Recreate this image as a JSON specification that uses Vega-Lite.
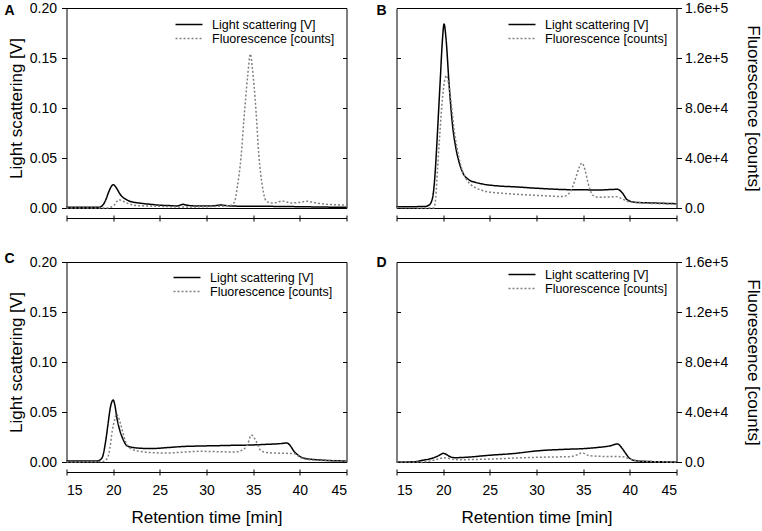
{
"$schema":"https://vega.github.io/schema/vega-lite/v6.json",
"padding":{"left":3.5,"top":0,"right":0,"bottom":0},
"config":{
 "font":"Liberation Sans",
 "view":{"stroke":"black","strokeWidth":1},
 "axis":{"domainColor":"black","tickColor":"black","labelColor":"black","titleColor":"black","grid":false,"titleFontWeight":"normal"},
 "legend":{"symbolStrokeWidth":1.5,"labelFontSize":12.5,"labelColor":"black","padding":0,"rowPadding":0},
 "title":{"color":"black"}
},
"datasets":{"d":[
{"p":"A","s":"LS","t":15,"v":0.0007},{"p":"A","s":"LS","t":17,"v":0.0007},{"p":"A","s":"LS","t":18.5,"v":0.0008},{"p":"A","s":"LS","t":18.9,"v":0.003},{"p":"A","s":"LS","t":19.2,"v":0.008},{"p":"A","s":"LS","t":19.5,"v":0.0155},{"p":"A","s":"LS","t":19.8,"v":0.0215},{"p":"A","s":"LS","t":20.0,"v":0.0233},{"p":"A","s":"LS","t":20.2,"v":0.022},{"p":"A","s":"LS","t":20.5,"v":0.0176},{"p":"A","s":"LS","t":20.8,"v":0.013},{"p":"A","s":"LS","t":21.0,"v":0.011},{"p":"A","s":"LS","t":21.4,"v":0.0085},{"p":"A","s":"LS","t":21.7,"v":0.007},{"p":"A","s":"LS","t":22.3,"v":0.0056},{"p":"A","s":"LS","t":23.0,"v":0.0047},{"p":"A","s":"LS","t":24.0,"v":0.0037},{"p":"A","s":"LS","t":24.75,"v":0.003},{"p":"A","s":"LS","t":26,"v":0.0024},{"p":"A","s":"LS","t":26.9,"v":0.002},{"p":"A","s":"LS","t":27.2,"v":0.003},{"p":"A","s":"LS","t":27.5,"v":0.0037},{"p":"A","s":"LS","t":27.8,"v":0.003},{"p":"A","s":"LS","t":28.3,"v":0.0023},{"p":"A","s":"LS","t":29,"v":0.002},{"p":"A","s":"LS","t":30.1,"v":0.002},{"p":"A","s":"LS","t":31,"v":0.0024},{"p":"A","s":"LS","t":31.5,"v":0.003},{"p":"A","s":"LS","t":32,"v":0.0025},{"p":"A","s":"LS","t":32.6,"v":0.002},{"p":"A","s":"LS","t":34,"v":0.0018},{"p":"A","s":"LS","t":36.5,"v":0.0017},{"p":"A","s":"LS","t":38,"v":0.0015},{"p":"A","s":"LS","t":40.1,"v":0.0013},{"p":"A","s":"LS","t":42,"v":0.001},{"p":"A","s":"LS","t":45,"v":0.0007},
{"p":"A","s":"FL","t":15,"v":0},{"p":"A","s":"FL","t":19.5,"v":0},{"p":"A","s":"FL","t":19.8,"v":800},{"p":"A","s":"FL","t":20.1,"v":2160},{"p":"A","s":"FL","t":20.4,"v":5200},{"p":"A","s":"FL","t":20.6,"v":6640},{"p":"A","s":"FL","t":20.9,"v":6000},{"p":"A","s":"FL","t":21.4,"v":4240},{"p":"A","s":"FL","t":21.8,"v":3040},{"p":"A","s":"FL","t":22.25,"v":2160},{"p":"A","s":"FL","t":23,"v":1760},{"p":"A","s":"FL","t":24,"v":1600},{"p":"A","s":"FL","t":25.5,"v":1200},{"p":"A","s":"FL","t":27.6,"v":800},{"p":"A","s":"FL","t":29.5,"v":960},{"p":"A","s":"FL","t":31.2,"v":1360},{"p":"A","s":"FL","t":32.2,"v":1760},{"p":"A","s":"FL","t":32.6,"v":2160},{"p":"A","s":"FL","t":33.0,"v":4800},{"p":"A","s":"FL","t":33.3,"v":16800},{"p":"A","s":"FL","t":33.7,"v":40800},{"p":"A","s":"FL","t":34.0,"v":70000},{"p":"A","s":"FL","t":34.4,"v":104800},{"p":"A","s":"FL","t":34.7,"v":123200},{"p":"A","s":"FL","t":34.9,"v":112800},{"p":"A","s":"FL","t":35.3,"v":78000},{"p":"A","s":"FL","t":35.6,"v":43200},{"p":"A","s":"FL","t":36.0,"v":16800},{"p":"A","s":"FL","t":36.35,"v":6160},{"p":"A","s":"FL","t":36.9,"v":4000},{"p":"A","s":"FL","t":37.5,"v":4400},{"p":"A","s":"FL","t":38.1,"v":5600},{"p":"A","s":"FL","t":38.6,"v":4800},{"p":"A","s":"FL","t":39.0,"v":4000},{"p":"A","s":"FL","t":39.8,"v":4400},{"p":"A","s":"FL","t":40.8,"v":5360},{"p":"A","s":"FL","t":41.5,"v":4400},{"p":"A","s":"FL","t":42.25,"v":3440},{"p":"A","s":"FL","t":43.7,"v":2640},{"p":"A","s":"FL","t":45,"v":2400},
{"p":"B","s":"LS","t":15,"v":0.0012},{"p":"B","s":"LS","t":18.0,"v":0.0015},{"p":"B","s":"LS","t":18.5,"v":0.003},{"p":"B","s":"LS","t":18.86,"v":0.01},{"p":"B","s":"LS","t":19.1,"v":0.03},{"p":"B","s":"LS","t":19.3,"v":0.06},{"p":"B","s":"LS","t":19.5,"v":0.095},{"p":"B","s":"LS","t":19.7,"v":0.13},{"p":"B","s":"LS","t":19.9,"v":0.165},{"p":"B","s":"LS","t":20.1,"v":0.184},{"p":"B","s":"LS","t":20.3,"v":0.17},{"p":"B","s":"LS","t":20.64,"v":0.123},{"p":"B","s":"LS","t":21.0,"v":0.083},{"p":"B","s":"LS","t":21.36,"v":0.06},{"p":"B","s":"LS","t":21.7,"v":0.046},{"p":"B","s":"LS","t":22.07,"v":0.036},{"p":"B","s":"LS","t":22.8,"v":0.028},{"p":"B","s":"LS","t":23.5,"v":0.0255},{"p":"B","s":"LS","t":24.2,"v":0.024},{"p":"B","s":"LS","t":26,"v":0.022},{"p":"B","s":"LS","t":28,"v":0.021},{"p":"B","s":"LS","t":29.6,"v":0.02},{"p":"B","s":"LS","t":31.5,"v":0.019},{"p":"B","s":"LS","t":33.1,"v":0.0184},{"p":"B","s":"LS","t":35,"v":0.0182},{"p":"B","s":"LS","t":36.7,"v":0.018},{"p":"B","s":"LS","t":38.0,"v":0.0185},{"p":"B","s":"LS","t":38.7,"v":0.0187},{"p":"B","s":"LS","t":39.2,"v":0.015},{"p":"B","s":"LS","t":39.75,"v":0.008},{"p":"B","s":"LS","t":40.6,"v":0.0057},{"p":"B","s":"LS","t":42.5,"v":0.005},{"p":"B","s":"LS","t":45,"v":0.0043},
{"p":"B","s":"FL","t":15,"v":400},{"p":"B","s":"FL","t":18.5,"v":0},{"p":"B","s":"FL","t":19.0,"v":0},{"p":"B","s":"FL","t":19.2,"v":8000},{"p":"B","s":"FL","t":19.4,"v":32000},{"p":"B","s":"FL","t":19.65,"v":60000},{"p":"B","s":"FL","t":19.9,"v":85600},{"p":"B","s":"FL","t":20.15,"v":101600},{"p":"B","s":"FL","t":20.36,"v":106000},{"p":"B","s":"FL","t":20.55,"v":100800},{"p":"B","s":"FL","t":20.8,"v":88000},{"p":"B","s":"FL","t":21.0,"v":74400},{"p":"B","s":"FL","t":21.2,"v":60800},{"p":"B","s":"FL","t":21.45,"v":49600},{"p":"B","s":"FL","t":21.7,"v":40000},{"p":"B","s":"FL","t":22.0,"v":31200},{"p":"B","s":"FL","t":22.4,"v":24000},{"p":"B","s":"FL","t":22.9,"v":19200},{"p":"B","s":"FL","t":23.5,"v":16000},{"p":"B","s":"FL","t":24.2,"v":14000},{"p":"B","s":"FL","t":24.9,"v":12800},{"p":"B","s":"FL","t":26.3,"v":11840},{"p":"B","s":"FL","t":27.8,"v":10960},{"p":"B","s":"FL","t":29.6,"v":10240},{"p":"B","s":"FL","t":31.4,"v":9600},{"p":"B","s":"FL","t":32.8,"v":9120},{"p":"B","s":"FL","t":33.5,"v":11760},{"p":"B","s":"FL","t":33.9,"v":17600},{"p":"B","s":"FL","t":34.2,"v":24000},{"p":"B","s":"FL","t":34.55,"v":32000},{"p":"B","s":"FL","t":34.86,"v":36000},{"p":"B","s":"FL","t":35.2,"v":30400},{"p":"B","s":"FL","t":35.5,"v":20800},{"p":"B","s":"FL","t":35.75,"v":14400},{"p":"B","s":"FL","t":36.0,"v":10400},{"p":"B","s":"FL","t":36.7,"v":8560},{"p":"B","s":"FL","t":37.6,"v":8800},{"p":"B","s":"FL","t":38.5,"v":9120},{"p":"B","s":"FL","t":39.2,"v":7200},{"p":"B","s":"FL","t":39.9,"v":5040},{"p":"B","s":"FL","t":41,"v":4240},{"p":"B","s":"FL","t":42,"v":3760},{"p":"B","s":"FL","t":43.5,"v":3360},{"p":"B","s":"FL","t":45,"v":2960},
{"p":"C","s":"LS","t":15,"v":0.001},{"p":"C","s":"LS","t":18.3,"v":0.001},{"p":"C","s":"LS","t":18.8,"v":0.004},{"p":"C","s":"LS","t":19.2,"v":0.021},{"p":"C","s":"LS","t":19.45,"v":0.038},{"p":"C","s":"LS","t":19.7,"v":0.0545},{"p":"C","s":"LS","t":20.0,"v":0.062},{"p":"C","s":"LS","t":20.2,"v":0.056},{"p":"C","s":"LS","t":20.4,"v":0.044},{"p":"C","s":"LS","t":20.7,"v":0.032},{"p":"C","s":"LS","t":21.0,"v":0.024},{"p":"C","s":"LS","t":21.5,"v":0.016},{"p":"C","s":"LS","t":22.2,"v":0.0144},{"p":"C","s":"LS","t":24.0,"v":0.0134},{"p":"C","s":"LS","t":25.8,"v":0.0144},{"p":"C","s":"LS","t":27.5,"v":0.0155},{"p":"C","s":"LS","t":29.4,"v":0.016},{"p":"C","s":"LS","t":31,"v":0.0163},{"p":"C","s":"LS","t":32.95,"v":0.0167},{"p":"C","s":"LS","t":34.8,"v":0.017},{"p":"C","s":"LS","t":36.5,"v":0.0177},{"p":"C","s":"LS","t":37.8,"v":0.0183},{"p":"C","s":"LS","t":38.6,"v":0.019},{"p":"C","s":"LS","t":39.0,"v":0.016},{"p":"C","s":"LS","t":39.35,"v":0.011},{"p":"C","s":"LS","t":39.7,"v":0.0077},{"p":"C","s":"LS","t":40.5,"v":0.0037},{"p":"C","s":"LS","t":42.2,"v":0.002},{"p":"C","s":"LS","t":45,"v":0.001},
{"p":"C","s":"FL","t":15,"v":0},{"p":"C","s":"FL","t":18.9,"v":400},{"p":"C","s":"FL","t":19.4,"v":3200},{"p":"C","s":"FL","t":19.65,"v":11200},{"p":"C","s":"FL","t":19.9,"v":24800},{"p":"C","s":"FL","t":20.15,"v":33600},{"p":"C","s":"FL","t":20.36,"v":38400},{"p":"C","s":"FL","t":20.55,"v":36000},{"p":"C","s":"FL","t":20.8,"v":30400},{"p":"C","s":"FL","t":21.05,"v":23200},{"p":"C","s":"FL","t":21.3,"v":16800},{"p":"C","s":"FL","t":21.6,"v":12800},{"p":"C","s":"FL","t":22.0,"v":10160},{"p":"C","s":"FL","t":23,"v":8400},{"p":"C","s":"FL","t":24.0,"v":7520},{"p":"C","s":"FL","t":25.8,"v":7200},{"p":"C","s":"FL","t":27.5,"v":7840},{"p":"C","s":"FL","t":29.4,"v":8560},{"p":"C","s":"FL","t":31.2,"v":8240},{"p":"C","s":"FL","t":32.95,"v":8000},{"p":"C","s":"FL","t":33.8,"v":9360},{"p":"C","s":"FL","t":34.4,"v":14160},{"p":"C","s":"FL","t":34.8,"v":21600},{"p":"C","s":"FL","t":35.05,"v":20000},{"p":"C","s":"FL","t":35.3,"v":16800},{"p":"C","s":"FL","t":35.8,"v":9360},{"p":"C","s":"FL","t":36.5,"v":7520},{"p":"C","s":"FL","t":38.3,"v":6960},{"p":"C","s":"FL","t":39.4,"v":6720},{"p":"C","s":"FL","t":39.75,"v":5200},{"p":"C","s":"FL","t":40.1,"v":3440},{"p":"C","s":"FL","t":40.8,"v":2000},{"p":"C","s":"FL","t":41.9,"v":1360},{"p":"C","s":"FL","t":45,"v":560},
{"p":"D","s":"LS","t":15,"v":0.0},{"p":"D","s":"LS","t":17,"v":0.0003},{"p":"D","s":"LS","t":17.8,"v":0.0017},{"p":"D","s":"LS","t":18.9,"v":0.004},{"p":"D","s":"LS","t":19.6,"v":0.0067},{"p":"D","s":"LS","t":20.0,"v":0.0087},{"p":"D","s":"LS","t":20.3,"v":0.0078},{"p":"D","s":"LS","t":20.6,"v":0.006},{"p":"D","s":"LS","t":21.2,"v":0.0043},{"p":"D","s":"LS","t":22.4,"v":0.0047},{"p":"D","s":"LS","t":24.9,"v":0.0067},{"p":"D","s":"LS","t":27.8,"v":0.0087},{"p":"D","s":"LS","t":29.9,"v":0.011},{"p":"D","s":"LS","t":33.1,"v":0.0127},{"p":"D","s":"LS","t":34.9,"v":0.0133},{"p":"D","s":"LS","t":36.5,"v":0.0145},{"p":"D","s":"LS","t":37.8,"v":0.016},{"p":"D","s":"LS","t":38.7,"v":0.018},{"p":"D","s":"LS","t":39.2,"v":0.0133},{"p":"D","s":"LS","t":39.6,"v":0.008},{"p":"D","s":"LS","t":39.9,"v":0.0043},{"p":"D","s":"LS","t":40.6,"v":0.0013},{"p":"D","s":"LS","t":42,"v":0.0005},{"p":"D","s":"LS","t":45,"v":0.0},
{"p":"D","s":"FL","t":15,"v":0},{"p":"D","s":"FL","t":17.5,"v":0},{"p":"D","s":"FL","t":18.9,"v":1360},{"p":"D","s":"FL","t":19.6,"v":2640},{"p":"D","s":"FL","t":20.1,"v":3440},{"p":"D","s":"FL","t":20.7,"v":2640},{"p":"D","s":"FL","t":21.4,"v":1840},{"p":"D","s":"FL","t":24.2,"v":2160},{"p":"D","s":"FL","t":27.8,"v":3200},{"p":"D","s":"FL","t":31.4,"v":4000},{"p":"D","s":"FL","t":33.5,"v":4240},{"p":"D","s":"FL","t":34.4,"v":5840},{"p":"D","s":"FL","t":34.9,"v":7440},{"p":"D","s":"FL","t":35.5,"v":5360},{"p":"D","s":"FL","t":36.7,"v":4560},{"p":"D","s":"FL","t":39.2,"v":4240},{"p":"D","s":"FL","t":40.1,"v":2160},{"p":"D","s":"FL","t":41.4,"v":560},{"p":"D","s":"FL","t":45,"v":0}
]},
"data":{"name":"d"},
"columns":2,
"spacing":{"row":54,"column":50},
"bounds":"flush",
"resolve":{"scale":{"color":"independent","strokeDash":"independent"}},
"concat":[
 {"width":280,"height":200,
  "title":{"text":"A","anchor":"start","frame":"group","offset":0,"dx":-62,"dy":28,"baseline":"alphabetic","fontSize":14,"fontWeight":"bold"},
  "transform":[{"filter":"datum.p=='A'"}],
  "layer":[
   {"transform":[{"filter":"datum.s=='LS'"}],
    "mark":{"type":"line","strokeWidth":1.5,"interpolate":"monotone"},
    "encoding":{
     "x":{"field":"t","type":"quantitative","scale":{"domain":[15,45],"nice":false,"zero":false},"axis":{"orient":"bottom","offset":10,"values":[15,20,25,30,35,40,45],"tickSize":3,"labels":false,"title":null}},
     "y":{"field":"v","type":"quantitative","scale":{"domain":[0,0.2],"nice":false},"axis":{"orient":"left","values":[0,0.05,0.1,0.15,0.2],"format":".2f","tickSize":5,"labelPadding":5,"labelFontSize":14,"domain":false,"title":"Light scattering [V]","titleFontSize":17,"titlePadding":4}},
     "color":{"field":"s","type":"nominal","scale":{"domain":["LS","FL"],"range":["#000000","#808080"]},"legend":{"orient":"none","legendX":115,"legendY":9,"title":null,"symbolType":"M-2,0L2,0","symbolSize":182,"labelOffset":15.5,"rowPadding":0,"labelExpr":"datum.label == 'LS' ? 'Light scattering [V]' : 'Fluorescence [counts]'"}},
     "strokeDash":{"field":"s","type":"nominal","scale":{"domain":["LS","FL"],"range":[[1,0],[2,2]]},"legend":{"orient":"none","legendX":115,"legendY":9,"title":null,"symbolType":"M-2,0L2,0","symbolSize":182,"labelOffset":15.5,"rowPadding":0,"labelExpr":"datum.label == 'LS' ? 'Light scattering [V]' : 'Fluorescence [counts]'"}}
    }},
   {"transform":[{"filter":"datum.s=='FL'"}],
    "mark":{"type":"line","strokeWidth":1.5,"interpolate":"monotone"},
    "encoding":{
     "x":{"field":"t","type":"quantitative","axis":{"orient":"bottom","offset":10,"values":[15,20,25,30,35,40,45],"tickSize":-3,"labels":false,"domain":false,"title":null}},
     "y":{"field":"v","type":"quantitative","scale":{"domain":[0,160000],"nice":false},"axis":{"orient":"right","values":[0,40000,80000,120000,160000],"tickSize":-4,"labels":false,"domain":false,"title":null}},
     "color":{"field":"s","type":"nominal","scale":{"domain":["LS","FL"],"range":["#000000","#808080"]},"legend":{"orient":"none","legendX":115,"legendY":9,"title":null,"symbolType":"M-2,0L2,0","symbolSize":182,"labelOffset":15.5,"rowPadding":0,"labelExpr":"datum.label == 'LS' ? 'Light scattering [V]' : 'Fluorescence [counts]'"}},
     "strokeDash":{"field":"s","type":"nominal","scale":{"domain":["LS","FL"],"range":[[1,0],[2,2]]},"legend":{"orient":"none","legendX":115,"legendY":9,"title":null,"symbolType":"M-2,0L2,0","symbolSize":182,"labelOffset":15.5,"rowPadding":0,"labelExpr":"datum.label == 'LS' ? 'Light scattering [V]' : 'Fluorescence [counts]'"}}
    }}
  ],
  "resolve":{"scale":{"y":"independent"},"axis":{"x":"independent"}}
 },
 {"width":280,"height":200,
  "title":{"text":"B","anchor":"start","frame":"group","offset":0,"dx":-20,"dy":28,"baseline":"alphabetic","fontSize":14,"fontWeight":"bold"},
  "transform":[{"filter":"datum.p=='B'"}],
  "layer":[
   {"transform":[{"filter":"datum.s=='LS'"}],
    "mark":{"type":"line","strokeWidth":1.5,"interpolate":"monotone"},
    "encoding":{
     "x":{"field":"t","type":"quantitative","scale":{"domain":[15,45],"nice":false,"zero":false},"axis":{"orient":"bottom","offset":10,"values":[15,20,25,30,35,40,45],"tickSize":3,"labels":false,"title":null}},
     "y":{"field":"v","type":"quantitative","scale":{"domain":[0,0.2],"nice":false},"axis":{"orient":"left","values":[0,0.05,0.1,0.15,0.2],"tickSize":-4,"labels":false,"domain":false,"title":null}},
     "color":{"field":"s","type":"nominal","scale":{"domain":["LS","FL"],"range":["#000000","#808080"]},"legend":{"orient":"none","legendX":118,"legendY":9,"title":null,"symbolType":"M-2,0L2,0","symbolSize":182,"labelOffset":15.5,"rowPadding":0,"labelExpr":"datum.label == 'LS' ? 'Light scattering [V]' : 'Fluorescence [counts]'"}},
     "strokeDash":{"field":"s","type":"nominal","scale":{"domain":["LS","FL"],"range":[[1,0],[2,2]]},"legend":{"orient":"none","legendX":118,"legendY":9,"title":null,"symbolType":"M-2,0L2,0","symbolSize":182,"labelOffset":15.5,"rowPadding":0,"labelExpr":"datum.label == 'LS' ? 'Light scattering [V]' : 'Fluorescence [counts]'"}}
    }},
   {"transform":[{"filter":"datum.s=='FL'"}],
    "mark":{"type":"line","strokeWidth":1.5,"interpolate":"monotone"},
    "encoding":{
     "x":{"field":"t","type":"quantitative","axis":{"orient":"bottom","offset":10,"values":[15,20,25,30,35,40,45],"tickSize":-3,"labels":false,"domain":false,"title":null}},
     "y":{"field":"v","type":"quantitative","scale":{"domain":[0,160000],"nice":false},"axis":{"orient":"right","values":[0,40000,80000,120000,160000],"labelExpr":"datum.value == 0 ? '0.0' : format(datum.value, '.1e')","tickSize":5,"labelPadding":3,"labelFontSize":14,"domain":false,"title":"Fluorescence [counts]","titleFontSize":17,"titlePadding":16}},
     "color":{"field":"s","type":"nominal","scale":{"domain":["LS","FL"],"range":["#000000","#808080"]},"legend":{"orient":"none","legendX":118,"legendY":9,"title":null,"symbolType":"M-2,0L2,0","symbolSize":182,"labelOffset":15.5,"rowPadding":0,"labelExpr":"datum.label == 'LS' ? 'Light scattering [V]' : 'Fluorescence [counts]'"}},
     "strokeDash":{"field":"s","type":"nominal","scale":{"domain":["LS","FL"],"range":[[1,0],[2,2]]},"legend":{"orient":"none","legendX":118,"legendY":9,"title":null,"symbolType":"M-2,0L2,0","symbolSize":182,"labelOffset":15.5,"rowPadding":0,"labelExpr":"datum.label == 'LS' ? 'Light scattering [V]' : 'Fluorescence [counts]'"}}
    }}
  ],
  "resolve":{"scale":{"y":"independent"},"axis":{"x":"independent"}}
 },
 {"width":280,"height":200,
  "title":{"text":"C","anchor":"start","frame":"group","offset":0,"dx":-62,"dy":22,"baseline":"alphabetic","fontSize":14,"fontWeight":"bold"},
  "transform":[{"filter":"datum.p=='C'"}],
  "layer":[
   {"transform":[{"filter":"datum.s=='LS'"}],
    "mark":{"type":"line","strokeWidth":1.5,"interpolate":"monotone"},
    "encoding":{
     "x":{"field":"t","type":"quantitative","scale":{"domain":[15,45],"nice":false,"zero":false},"axis":{"orient":"bottom","offset":10,"values":[15,20,25,30,35,40,45],"tickSize":3,"labelFontSize":14,"labelPadding":8,"title":"Retention time [min]","titleFontSize":17,"titlePadding":12}},
     "y":{"field":"v","type":"quantitative","scale":{"domain":[0,0.2],"nice":false},"axis":{"orient":"left","values":[0,0.05,0.1,0.15,0.2],"format":".2f","tickSize":5,"labelPadding":5,"labelFontSize":14,"domain":false,"title":"Light scattering [V]","titleFontSize":17,"titlePadding":4}},
     "color":{"field":"s","type":"nominal","scale":{"domain":["LS","FL"],"range":["#000000","#808080"]},"legend":{"orient":"none","legendX":113,"legendY":8,"title":null,"symbolType":"M-2,0L2,0","symbolSize":182,"labelOffset":15.5,"rowPadding":0,"labelExpr":"datum.label == 'LS' ? 'Light scattering [V]' : 'Fluorescence [counts]'"}},
     "strokeDash":{"field":"s","type":"nominal","scale":{"domain":["LS","FL"],"range":[[1,0],[2,2]]},"legend":{"orient":"none","legendX":113,"legendY":8,"title":null,"symbolType":"M-2,0L2,0","symbolSize":182,"labelOffset":15.5,"rowPadding":0,"labelExpr":"datum.label == 'LS' ? 'Light scattering [V]' : 'Fluorescence [counts]'"}}
    }},
   {"transform":[{"filter":"datum.s=='FL'"}],
    "mark":{"type":"line","strokeWidth":1.5,"interpolate":"monotone"},
    "encoding":{
     "x":{"field":"t","type":"quantitative","axis":{"orient":"bottom","offset":10,"values":[15,20,25,30,35,40,45],"tickSize":-3,"labels":false,"domain":false,"title":null}},
     "y":{"field":"v","type":"quantitative","scale":{"domain":[0,160000],"nice":false},"axis":{"orient":"right","values":[0,40000,80000,120000,160000],"tickSize":-4,"labels":false,"domain":false,"title":null}},
     "color":{"field":"s","type":"nominal","scale":{"domain":["LS","FL"],"range":["#000000","#808080"]},"legend":{"orient":"none","legendX":113,"legendY":8,"title":null,"symbolType":"M-2,0L2,0","symbolSize":182,"labelOffset":15.5,"rowPadding":0,"labelExpr":"datum.label == 'LS' ? 'Light scattering [V]' : 'Fluorescence [counts]'"}},
     "strokeDash":{"field":"s","type":"nominal","scale":{"domain":["LS","FL"],"range":[[1,0],[2,2]]},"legend":{"orient":"none","legendX":113,"legendY":8,"title":null,"symbolType":"M-2,0L2,0","symbolSize":182,"labelOffset":15.5,"rowPadding":0,"labelExpr":"datum.label == 'LS' ? 'Light scattering [V]' : 'Fluorescence [counts]'"}}
    }}
  ],
  "resolve":{"scale":{"y":"independent"},"axis":{"x":"independent"}}
 },
 {"width":280,"height":200,
  "title":{"text":"D","anchor":"start","frame":"group","offset":0,"dx":-20,"dy":26,"baseline":"alphabetic","fontSize":14,"fontWeight":"bold"},
  "transform":[{"filter":"datum.p=='D'"}],
  "layer":[
   {"transform":[{"filter":"datum.s=='LS'"}],
    "mark":{"type":"line","strokeWidth":1.5,"interpolate":"monotone"},
    "encoding":{
     "x":{"field":"t","type":"quantitative","scale":{"domain":[15,45],"nice":false,"zero":false},"axis":{"orient":"bottom","offset":10,"values":[15,20,25,30,35,40,45],"tickSize":3,"labelFontSize":14,"labelPadding":8,"title":"Retention time [min]","titleFontSize":17,"titlePadding":12}},
     "y":{"field":"v","type":"quantitative","scale":{"domain":[0,0.2],"nice":false},"axis":{"orient":"left","values":[0,0.05,0.1,0.15,0.2],"tickSize":-4,"labels":false,"domain":false,"title":null}},
     "color":{"field":"s","type":"nominal","scale":{"domain":["LS","FL"],"range":["#000000","#808080"]},"legend":{"orient":"none","legendX":118,"legendY":5,"title":null,"symbolType":"M-2,0L2,0","symbolSize":182,"labelOffset":15.5,"rowPadding":0,"labelExpr":"datum.label == 'LS' ? 'Light scattering [V]' : 'Fluorescence [counts]'"}},
     "strokeDash":{"field":"s","type":"nominal","scale":{"domain":["LS","FL"],"range":[[1,0],[2,2]]},"legend":{"orient":"none","legendX":118,"legendY":5,"title":null,"symbolType":"M-2,0L2,0","symbolSize":182,"labelOffset":15.5,"rowPadding":0,"labelExpr":"datum.label == 'LS' ? 'Light scattering [V]' : 'Fluorescence [counts]'"}}
    }},
   {"transform":[{"filter":"datum.s=='FL'"}],
    "mark":{"type":"line","strokeWidth":1.5,"interpolate":"monotone"},
    "encoding":{
     "x":{"field":"t","type":"quantitative","axis":{"orient":"bottom","offset":10,"values":[15,20,25,30,35,40,45],"tickSize":-3,"labels":false,"domain":false,"title":null}},
     "y":{"field":"v","type":"quantitative","scale":{"domain":[0,160000],"nice":false},"axis":{"orient":"right","values":[0,40000,80000,120000,160000],"labelExpr":"datum.value == 0 ? '0.0' : format(datum.value, '.1e')","tickSize":5,"labelPadding":3,"labelFontSize":14,"domain":false,"title":"Fluorescence [counts]","titleFontSize":17,"titlePadding":16}},
     "color":{"field":"s","type":"nominal","scale":{"domain":["LS","FL"],"range":["#000000","#808080"]},"legend":{"orient":"none","legendX":118,"legendY":5,"title":null,"symbolType":"M-2,0L2,0","symbolSize":182,"labelOffset":15.5,"rowPadding":0,"labelExpr":"datum.label == 'LS' ? 'Light scattering [V]' : 'Fluorescence [counts]'"}},
     "strokeDash":{"field":"s","type":"nominal","scale":{"domain":["LS","FL"],"range":[[1,0],[2,2]]},"legend":{"orient":"none","legendX":118,"legendY":5,"title":null,"symbolType":"M-2,0L2,0","symbolSize":182,"labelOffset":15.5,"rowPadding":0,"labelExpr":"datum.label == 'LS' ? 'Light scattering [V]' : 'Fluorescence [counts]'"}}
    }}
  ],
  "resolve":{"scale":{"y":"independent"},"axis":{"x":"independent"}}
 }
]
}
